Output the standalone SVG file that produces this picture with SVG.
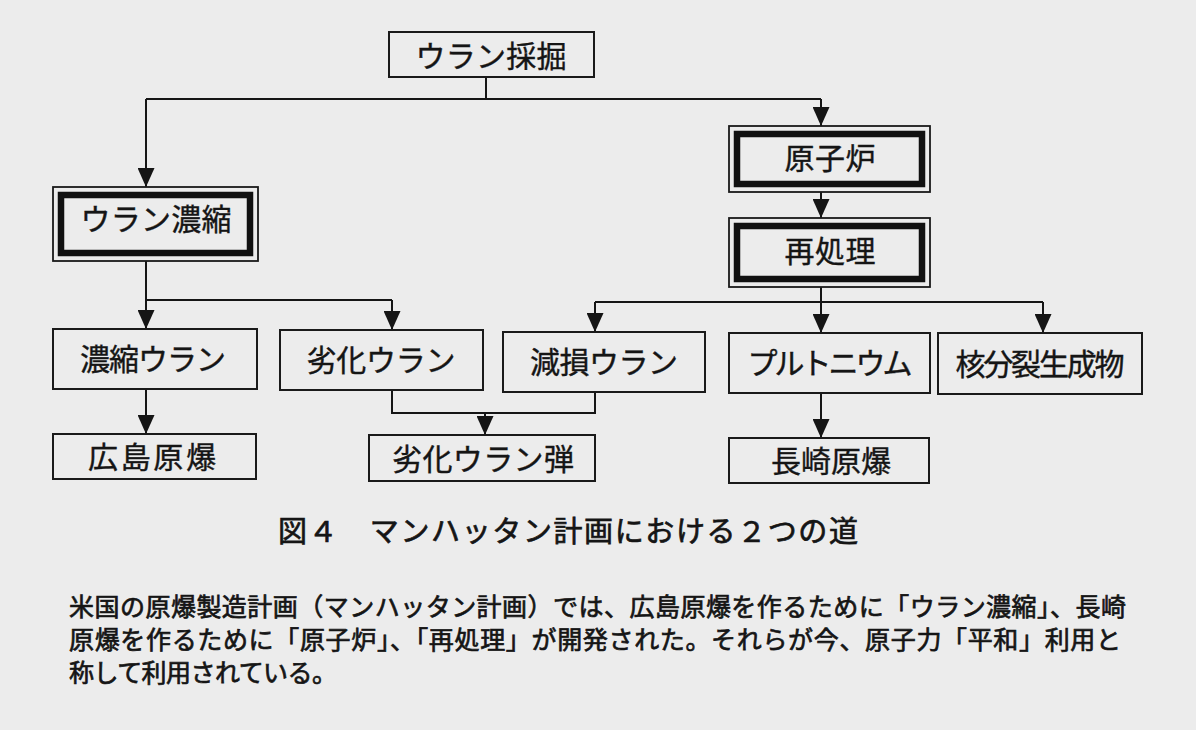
<svg xmlns="http://www.w3.org/2000/svg" width="1196" height="730" viewBox="0 0 1196 730">
<defs>
<marker id="arr" markerUnits="userSpaceOnUse" markerWidth="18" markerHeight="17" refX="19" refY="8.5" orient="auto">
<path d="M0,0 L19,8.5 L0,17 z" fill="#151515"/>
</marker>
<style>
.bg{fill:#ececec}
.box{fill:none;stroke:#1a1a1a;stroke-width:2}
.thin{fill:none;stroke:#1a1a1a;stroke-width:1.8}
.thick{fill:none;stroke:#111;stroke-width:6.5}
.lbl{font-family:"Noto Sans CJK JP","Noto Sans CJK SC",sans-serif;font-size:30px;fill:#151515;stroke:#151515;stroke-width:0.4;text-anchor:middle}
.cap{font-family:"Noto Sans CJK JP","Noto Sans CJK SC",sans-serif;font-size:29px;fill:#151515;stroke:#151515;stroke-width:0.7}
.para{font-family:"Noto Sans CJK JP","Noto Sans CJK SC",sans-serif;font-size:25px;fill:#151515;stroke:#151515;stroke-width:0.7}
.con{fill:none;stroke:#151515;stroke-width:2}
.ar{fill:none;stroke:#151515;stroke-width:2;marker-end:url(#arr)}
</style>
</defs>
<rect class="bg" x="0" y="0" width="1196" height="730"/>

<g id="connectors">
<path class="con" d="M486,77 V99 M146,99 H821"/>
<path class="ar" d="M146,99 V187"/>
<path class="ar" d="M821,99 V126"/>
<path class="ar" d="M821,192 V218"/>
<path class="con" d="M146,261 V300 H392"/>
<path class="ar" d="M146,300 V329"/>
<path class="ar" d="M392,300 V330"/>
<path class="con" d="M821,287 V302 M595,302 H1043"/>
<path class="ar" d="M595,302 V332"/>
<path class="ar" d="M821,302 V333"/>
<path class="ar" d="M1043,302 V333"/>
<path class="con" d="M392,390 V413 H595 V392"/>
<path class="ar" d="M485,413 V435"/>
<path class="ar" d="M146,389 V434"/>
<path class="ar" d="M821,393 V438"/>
</g>

<g id="n-mining">
<rect class="box" x="389" y="32" width="205" height="45"/>
<text class="lbl" x="491" y="67" textLength="151">ウラン採掘</text>
</g>

<g id="n-enrich">
<rect class="thin" x="53" y="187" width="205" height="74"/>
<rect class="thick" x="61" y="195" width="189" height="58"/>
<text class="lbl" x="156" y="230" textLength="151">ウラン濃縮</text>
</g>

<g id="n-reactor">
<rect class="thin" x="729" y="126" width="201" height="66"/>
<rect class="thick" x="737" y="134" width="185" height="50"/>
<text class="lbl" x="830" y="169" textLength="91">原子炉</text>
</g>

<g id="n-reprocess">
<rect class="thin" x="729" y="218" width="201" height="69"/>
<rect class="thick" x="737" y="226" width="185" height="53"/>
<text class="lbl" x="830" y="262" textLength="91">再処理</text>
</g>

<g id="n-enriched">
<rect class="box" x="53" y="329" width="204" height="60"/>
<text class="lbl" x="153" y="370" textLength="146">濃縮ウラン</text>
</g>

<g id="n-degraded">
<rect class="box" x="280" y="330" width="203" height="60"/>
<text class="lbl" x="381" y="371" textLength="149">劣化ウラン</text>
</g>

<g id="n-depleted">
<rect class="box" x="503" y="332" width="202" height="60"/>
<text class="lbl" x="604" y="373" textLength="148">減損ウラン</text>
</g>

<g id="n-plutonium">
<rect class="box" x="729" y="333" width="201" height="60"/>
<text class="lbl" x="830" y="374" textLength="165">プルトニウム</text>
</g>

<g id="n-fission">
<rect class="box" x="938" y="333" width="204" height="61"/>
<text class="lbl" x="1040" y="375" textLength="169">核分裂生成物</text>
</g>

<g id="n-hiroshima">
<rect class="box" x="53" y="434" width="203" height="45"/>
<text class="lbl" x="152" y="468" textLength="128">広島原爆</text>
</g>

<g id="n-du-shell">
<rect class="box" x="369" y="435" width="226" height="46"/>
<text class="lbl" x="483" y="470" textLength="182">劣化ウラン弾</text>
</g>

<g id="n-nagasaki">
<rect class="box" x="729" y="438" width="200" height="45"/>
<text class="lbl" x="831" y="472" textLength="120">長崎原爆</text>
</g>

<g id="caption">
<text class="cap" x="278" y="542" textLength="580">図４　マンハッタン計画における２つの道</text>
</g>

<g id="paragraph">
<text class="para" x="69" y="616" textLength="1057">米国の原爆製造計画（マンハッタン計画）では、広島原爆を作るために「ウラン濃縮」、長崎</text>
<text class="para" x="69" y="649" textLength="1052">原爆を作るために「原子炉」、「再処理」が開発された。それらが今、原子力「平和」利用と</text>
<text class="para" x="69" y="682" textLength="268">称して利用されている。</text>
</g>
</svg>
